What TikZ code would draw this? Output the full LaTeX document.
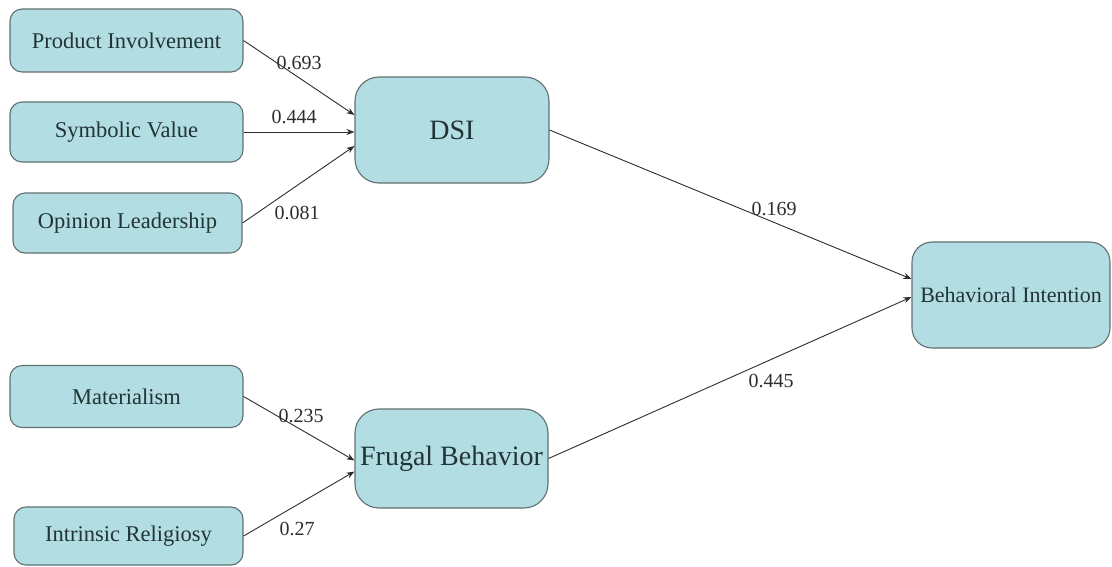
\documentclass[tikz,border=0pt]{standalone}
\usepackage{fontspec}
\setmainfont{Liberation Serif}
\usetikzlibrary{arrows.meta}
\definecolor{boxfill}{RGB}{178,221,227}
\definecolor{boxline}{RGB}{96,112,112}
\definecolor{boxtext}{RGB}{34,52,54}
\definecolor{edgecol}{RGB}{45,45,45}
\tikzset{
  smallbox/.style={draw=boxline, line width=1.1pt, fill=boxfill, rounded corners=12pt,
    text=boxtext, font=\fontsize{22.5}{26}\selectfont, inner sep=0pt},
  bigbox/.style={draw=boxline, line width=1.1pt, fill=boxfill, rounded corners=24pt,
    text=boxtext, font=\fontsize{28}{32}\selectfont, inner sep=0pt},
  path/.style={draw=edgecol, line width=0.9pt, -{Stealth[length=8pt,width=6pt]}},
  coef/.style={text=edgecol, font=\fontsize{20}{22}\selectfont, inner sep=0pt}
}
\begin{document}
\begin{tikzpicture}[x=1pt,y=-1pt]
\useasboundingbox (0,0) rectangle (1112,566);
% predictors of DSI
\node[smallbox, minimum width=233pt, minimum height=63pt] (pi) at (126.5,40.5) {Product Involvement};
\node[smallbox, minimum width=233pt, minimum height=60pt] (sv) at (126.5,132) {Symbolic Value};
\node[smallbox, minimum width=229pt, minimum height=60pt] (ol) at (127.5,223) {Opinion Leadership};
% predictors of frugal behavior
\node[smallbox, minimum width=233pt, minimum height=62pt] (mat) at (126.5,396.5) {Materialism};
\node[smallbox, minimum width=229pt, minimum height=58pt] (ir) at (128.5,536) {Intrinsic Religiosy};
% mediators and outcome
\node[bigbox, minimum width=194pt, minimum height=106pt] (dsi) at (452,130) {DSI};
\node[bigbox, minimum width=193pt, minimum height=99pt] (fb) at (451.5,458.5) {Frugal Behavior};
\node[smallbox, font=\fontsize{22}{26}\selectfont, rounded corners=20pt, minimum width=198pt, minimum height=106pt] (bi) at (1011,295) {Behavioral Intention};
% structural paths
\draw[path] (pi.east) -- ([yshift=15pt]dsi.west);
\draw[path] (sv.east) -- (sv.east -| dsi.west);
\draw[path] (ol.east) -- ([yshift=-16pt]dsi.west);
\draw[path] (mat.east) -- ([yshift=-2pt]fb.west);
\draw[path] (ir.east) -- ([yshift=-13pt]fb.west);
\draw[path] (dsi.east) -- ([yshift=16pt]bi.west);
\draw[path] (fb.east) -- ([yshift=-2pt]bi.west);
% path coefficients
\node[coef] (c1) at (299,63) {0.693};
\node[coef] (c2) at (294,117) {0.444};
\node[coef] (c3) at (297,213) {0.081};
\node[coef] (c4) at (301,416) {0.235};
\node[coef] (c5) at (297,529) {0.27};
\node[coef] (c6) at (774,209) {0.169};
\node[coef] (c7) at (771,381) {0.445};
\end{tikzpicture}
\end{document}
